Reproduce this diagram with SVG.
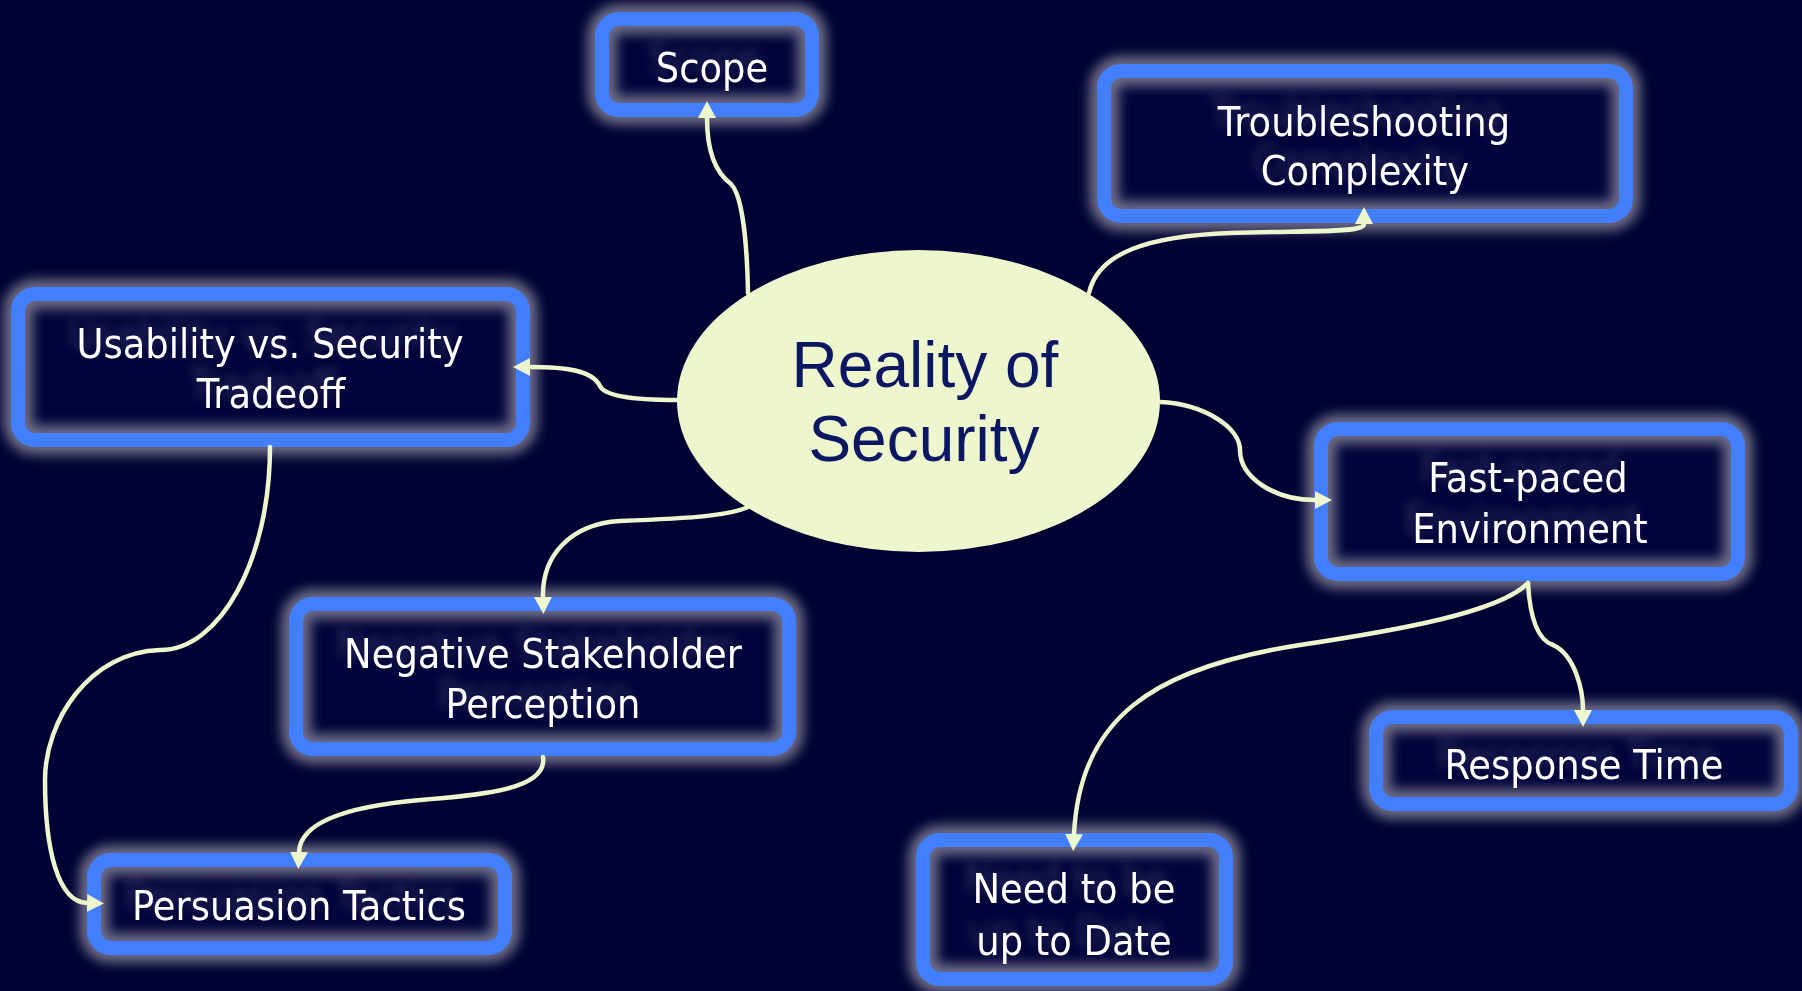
<svg xmlns="http://www.w3.org/2000/svg" width="1802" height="991" viewBox="0 0 1802 991">
<defs>
<style>
.bg{fill:#010233}
.fill{fill:#02033a}
.glow{fill:none;stroke:#9898a8;stroke-width:30;opacity:0.7;filter:url(#blur)}
.border{fill:none;stroke:#427ffe;stroke-width:14}
.lbl{font-family:"DejaVu Sans Condensed","DejaVu Sans",sans-serif;font-stretch:condensed;font-size:41px;fill:#ffffff;text-anchor:middle;filter:url(#ghost)}
.main{font-family:"Liberation Sans",Arial,sans-serif;font-size:64px;fill:#0b1762;text-anchor:middle}
.conn{fill:none;stroke:#eef6cd;stroke-width:4.5;stroke-linecap:round}
</style>
<filter id="blur" x="-20%" y="-40%" width="140%" height="180%"><feGaussianBlur stdDeviation="6"/></filter>
<filter id="ghost" x="-20%" y="-50%" width="140%" height="200%">
<feGaussianBlur in="SourceAlpha" stdDeviation="5" result="b"/>
<feOffset in="b" dx="-8" dy="-10" result="o"/>
<feFlood flood-color="#8c8cb0" flood-opacity="0.3"/>
<feComposite in2="o" operator="in" result="s"/>
<feMerge><feMergeNode in="s"/><feMergeNode in="SourceGraphic"/></feMerge>
</filter>
<marker id="arr" viewBox="0 0 17 18" refX="0" refY="9" markerWidth="17" markerHeight="18" markerUnits="userSpaceOnUse" orient="auto">
<path d="M0,0 L17,9 L0,18 Z" fill="#eef6cd"/>
</marker>
</defs>
<rect class="bg" x="0" y="0" width="1802" height="991"/>

<g id="center">
<ellipse cx="918.5" cy="401" rx="241.5" ry="151" fill="#eef6cd"/>
<text class="main" x="925" y="387">Reality of</text>
<text class="main" x="924" y="461">Security</text>
</g>

<g id="scope">
<rect class="fill" x="602" y="19" width="210" height="91" rx="17"/>
<rect class="glow" x="602" y="19" width="210" height="91" rx="17"/>
<rect class="border" x="602" y="19" width="210" height="91" rx="17"/>
<text class="lbl" x="712" y="82">Scope</text>
</g>

<g id="troubleshooting">
<rect class="fill" x="1104" y="71" width="522" height="145" rx="17"/>
<rect class="glow" x="1104" y="71" width="522" height="145" rx="17"/>
<rect class="border" x="1104" y="71" width="522" height="145" rx="17"/>
<text class="lbl" x="1364" y="136">Troubleshooting</text>
<text class="lbl" x="1365" y="185">Complexity</text>
</g>

<g id="usability">
<rect class="fill" x="18" y="294" width="505" height="146" rx="17"/>
<rect class="glow" x="18" y="294" width="505" height="146" rx="17"/>
<rect class="border" x="18" y="294" width="505" height="146" rx="17"/>
<text class="lbl" x="270" y="358">Usability vs. Security</text>
<text class="lbl" x="271" y="408">Tradeoff</text>
</g>

<g id="fastpaced">
<rect class="fill" x="1321" y="429" width="417" height="145" rx="17"/>
<rect class="glow" x="1321" y="429" width="417" height="145" rx="17"/>
<rect class="border" x="1321" y="429" width="417" height="145" rx="17"/>
<text class="lbl" x="1528" y="492">Fast-paced</text>
<text class="lbl" x="1530" y="543">Environment</text>
</g>

<g id="response">
<rect class="fill" x="1376" y="717" width="415" height="87" rx="17"/>
<rect class="glow" x="1376" y="717" width="415" height="87" rx="17"/>
<rect class="border" x="1376" y="717" width="415" height="87" rx="17"/>
<text class="lbl" x="1584" y="779">Response Time</text>
</g>

<g id="needtobe">
<rect class="fill" x="923" y="840" width="303" height="139" rx="17"/>
<rect class="glow" x="923" y="840" width="303" height="139" rx="17"/>
<rect class="border" x="923" y="840" width="303" height="139" rx="17"/>
<text class="lbl" x="1074" y="903">Need to be</text>
<text class="lbl" x="1074" y="955">up to Date</text>
</g>

<g id="negative">
<rect class="fill" x="296" y="604" width="493" height="145" rx="17"/>
<rect class="glow" x="296" y="604" width="493" height="145" rx="17"/>
<rect class="border" x="296" y="604" width="493" height="145" rx="17"/>
<text class="lbl" x="543" y="668">Negative Stakeholder</text>
<text class="lbl" x="543" y="718">Perception</text>
</g>

<g id="persuasion">
<rect class="fill" x="94" y="860" width="411" height="88" rx="17"/>
<rect class="glow" x="94" y="860" width="411" height="88" rx="17"/>
<rect class="border" x="94" y="860" width="411" height="88" rx="17"/>
<text class="lbl" x="299" y="920">Persuasion Tactics</text>
</g>

<g id="connectors">
<path class="conn" marker-end="url(#arr)" d="M748,293 C747,240 742,195 731,184 C712,170 707,145 707,118"/>
<path class="conn" marker-end="url(#arr)" d="M1089,293 C1098,252 1150,236 1230,233 C1300,231 1345,232 1358,228 C1363,227 1364,226 1364,224"/>
<path class="conn" marker-end="url(#arr)" d="M677,400 C640,400 605,397 600,386 C592,370 565,367 530,367"/>
<path class="conn" marker-end="url(#arr)" d="M1160,402 C1205,404 1240,428 1240,450 C1240,478 1275,500 1315,500"/>
<path class="conn" marker-end="url(#arr)" d="M1528,583 C1530,620 1538,640 1553,645 C1575,655 1583,690 1583,710"/>
<path class="conn" marker-end="url(#arr)" d="M1528,583 C1500,612 1400,630 1300,645 C1150,668 1080,720 1074,834"/>
<path class="conn" marker-end="url(#arr)" d="M748,507 C730,515 700,518 620,521 C570,524 542,556 543,597"/>
<path class="conn" marker-end="url(#arr)" d="M543,757 C548,790 480,795 420,800 C330,808 300,828 299,852"/>
<path class="conn" marker-end="url(#arr)" d="M270,447 C270,560 220,650 160,650 C90,652 45,720 45,780 C45,850 58,902 87,903"/>
</g>
</svg>
